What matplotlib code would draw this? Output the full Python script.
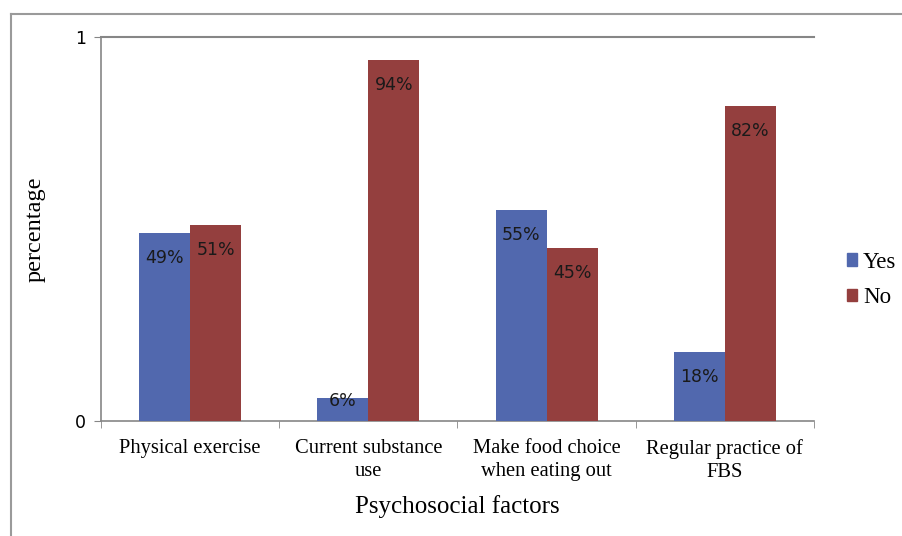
import matplotlib
matplotlib.use("Agg")
import matplotlib.pyplot as plt
from matplotlib.lines import Line2D
from matplotlib.patches import Patch
import numpy as np

categories = ["Physical exercise", "Current substance\nuse",
              "Make food choice\nwhen eating out", "Regular practice of\nFBS"]
yes_vals = [0.49, 0.06, 0.55, 0.18]
no_vals = [0.51, 0.94, 0.45, 0.82]
yes_labels = ["49%", "6%", "55%", "18%"]
no_labels = ["51%", "94%", "45%", "82%"]
series_names = ["Yes", "No"]
y_ticks = [0, 1]

BLUE = "#5168AE"
RED = "#943F3E"
GRAY = "#868686"

fig = plt.figure(figsize=(9.03, 5.36), dpi=100)
ax = fig.add_axes([101 / 903, 1 - 421 / 536, 713 / 903, 384 / 536])

x = np.arange(len(categories))
w = 1 / 3.5
b1 = ax.bar(x - w / 2, yes_vals, w, color=BLUE, zorder=3)
b2 = ax.bar(x + w / 2, no_vals, w, color=RED, zorder=3)

label_font = dict(fontsize=12.5, family="DejaVu Sans", color="#1a1a1a", zorder=4)
for bars, vals, labs in ((b1, yes_vals, yes_labels), (b2, no_vals, no_labels)):
    for rect, v, lab in zip(bars, vals, labs):
        ly = max(v - 0.065, 0.052)
        ax.text(rect.get_x() + rect.get_width() / 2, ly, lab,
                ha="center", va="center", **label_font)

ax.set_xlim(-0.5, len(categories) - 0.5)
ax.set_ylim(0, 1)
ax.set_yticks(y_ticks)
ax.set_yticklabels([str(t) for t in y_ticks], fontsize=12.5, family="DejaVu Sans")
ax.set_xticks(x)
ax.set_xticklabels(categories, fontsize=14.8, family="Liberation Serif",
                   linespacing=1.3)
ax.tick_params(axis="x", length=0, pad=13)
ax.set_xticks(np.arange(len(categories) + 1) - 0.5, minor=True)
ax.tick_params(axis="x", which="minor", length=5, color=GRAY, direction="out")
ax.tick_params(axis="y", length=5, color=GRAY, direction="out", pad=6)

ax.axhline(1, color=GRAY, lw=1.5, zorder=2, clip_on=False)
for s in ("top", "right"):
    ax.spines[s].set_visible(False)
for s in ("left", "bottom"):
    ax.spines[s].set_color(GRAY)
    ax.spines[s].set_linewidth(1.2)

ax.set_xlabel("Psychosocial factors", fontsize=18, family="Liberation Serif",
              labelpad=9)
ax.set_ylabel("percentage", fontsize=17.5, family="Liberation Serif", labelpad=21)

handles = [Patch(color=BLUE), Patch(color=RED)]
fig.legend(handles, series_names, loc="center left",
           bbox_to_anchor=(847 / 903, 1 - 280 / 536), frameon=False,
           prop={"family": "Liberation Serif", "size": 16.5},
           handlelength=0.45, handleheight=0.45, handletextpad=0.25,
           labelspacing=0.65, borderpad=0, borderaxespad=0)

# outer chart-area frame
fig.add_artist(Line2D([11 / 903, 11 / 903], [0, 1 - 14 / 536],
                      transform=fig.transFigure, color="#9a9a9a", lw=1.5))
fig.add_artist(Line2D([11 / 903, 1], [1 - 14 / 536, 1 - 14 / 536],
                      transform=fig.transFigure, color="#9a9a9a", lw=1.5))

fig.savefig("out.png", dpi=100)
